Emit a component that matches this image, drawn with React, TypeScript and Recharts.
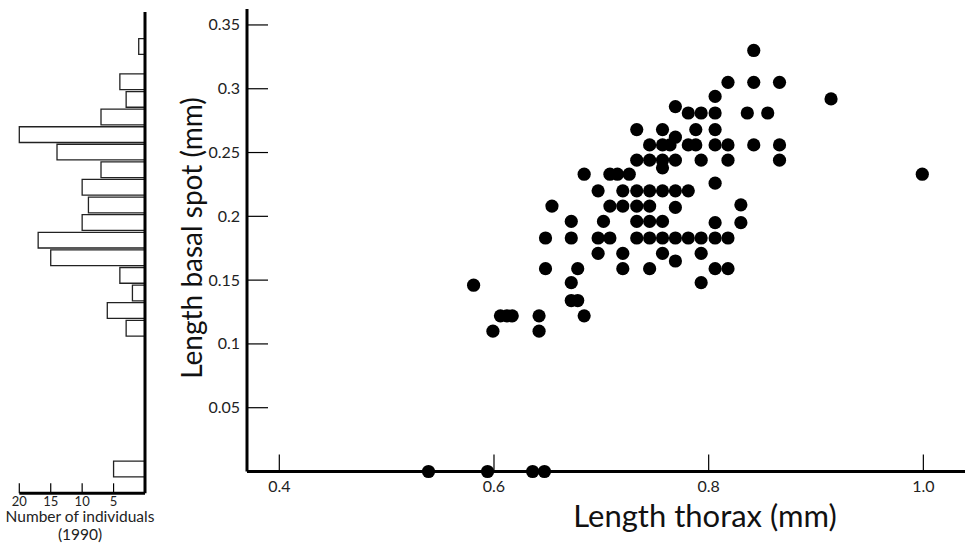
import { ScatterChart, Scatter, XAxis, YAxis, BarChart, Bar, Label } from "recharts";

const thoraxTicks = [0.4, 0.6, 0.8, 1.0];
const spotTicks = [0.05, 0.1, 0.15, 0.2, 0.25, 0.3, 0.35];
const countTicks = [5, 10, 15, 20];

// thorax length (x) and basal spot length (y), read row by row
const thorax = [
  0.539, 0.594, 0.636, 0.647,
  0.599, 0.642,
  0.606, 0.612, 0.617, 0.642, 0.684,
  0.672, 0.678,
  0.581,
  0.672, 0.793,
  0.648, 0.678, 0.72, 0.745, 0.806, 0.818,
  0.769,
  0.697, 0.72, 0.757, 0.793,
  0.648, 0.672, 0.697, 0.708, 0.733, 0.745, 0.757, 0.769, 0.781, 0.793, 0.806, 0.818,
  0.806, 0.83,
  0.672, 0.702, 0.733, 0.745, 0.757,
  0.769,
  0.654, 0.708, 0.72, 0.733, 0.745,
  0.83,
  0.697, 0.72, 0.733, 0.745, 0.757, 0.769, 0.781,
  0.806,
  0.684, 0.708, 0.715, 0.726, 0.999,
  0.757,
  0.733, 0.745, 0.757, 0.769, 0.793, 0.818, 0.866,
  0.745, 0.757, 0.764, 0.781, 0.788, 0.806, 0.818, 0.842, 0.866,
  0.769,
  0.733, 0.757, 0.788, 0.806,
  0.781, 0.793, 0.806, 0.836, 0.855,
  0.769,
  0.914,
  0.806,
  0.818, 0.842, 0.866,
  0.842,
];
const spot = [
  0, 0, 0, 0,
  0.11, 0.11,
  0.122, 0.122, 0.122, 0.122, 0.122,
  0.134, 0.134,
  0.146,
  0.148, 0.148,
  0.159, 0.159, 0.159, 0.159, 0.159, 0.159,
  0.165,
  0.171, 0.171, 0.171, 0.171,
  0.183, 0.183, 0.183, 0.183, 0.183, 0.183, 0.183, 0.183, 0.183, 0.183, 0.183, 0.183,
  0.195, 0.195,
  0.196, 0.196, 0.196, 0.196, 0.196,
  0.207,
  0.208, 0.208, 0.208, 0.208, 0.208,
  0.209,
  0.22, 0.22, 0.22, 0.22, 0.22, 0.22, 0.22,
  0.226,
  0.233, 0.233, 0.233, 0.233, 0.233,
  0.238,
  0.244, 0.244, 0.244, 0.244, 0.244, 0.244, 0.244,
  0.256, 0.256, 0.256, 0.256, 0.256, 0.256, 0.256, 0.256, 0.256,
  0.262,
  0.268, 0.268, 0.268, 0.268,
  0.281, 0.281, 0.281, 0.281, 0.281,
  0.286,
  0.292,
  0.294,
  0.305, 0.305, 0.305,
  0.33,
];

// marginal histogram of basal spot length (1990)
const binCentres = [
  0.3331, 0.3193, 0.3055, 0.2917, 0.2779, 0.2641, 0.2504, 0.2366, 0.2228,
  0.209, 0.1952, 0.1814, 0.1676, 0.1538, 0.14, 0.1262, 0.1124, 0.0986,
  0.0848, 0.071, 0.0572, 0.0434, 0.0296, 0.0159, 0.0021,
];
const counts1990 = [1, 0, 4, 3, 7, 20, 14, 7, 10, 9, 10, 17, 15, 4, 2, 6, 3, 0, 0, 0, 0, 0, 0, 0, 5];

const points = thorax.map((t, i) => ({ thorax: t, spot: spot[i] }));
const bins = binCentres.map((c, i) => ({ centre: c, count: counts1990[i] }));

const FONT = "Lato, 'Liberation Sans', sans-serif";

const Dot = (props: any) => <circle cx={props.cx} cy={props.cy} r={6.6} fill="#000" />;

const ThoraxTick = (props: any) => {
  const { x, y, payload } = props;
  return (
    <g>
      <line x1={x} x2={x} y1={y - 17} y2={y} stroke="#000" strokeWidth={1.2} />
      <text x={x} y={y + 20} textAnchor="middle" fontSize={16} fill="#222" fontFamily={FONT}>
        {payload.value === 1 ? "1.0" : String(payload.value)}
      </text>
    </g>
  );
};

const SpotTick = (props: any) => {
  const { x, y, payload } = props;
  return (
    <g>
      <line x1={x} x2={x + 21} y1={y} y2={y} stroke="#000" strokeWidth={1.2} />
      <text x={x - 7} y={y + 5.5} textAnchor="end" fontSize={16} fill="#222" fontFamily={FONT}>
        {String(payload.value)}
      </text>
    </g>
  );
};

const CountTick = (props: any) => {
  const { x, y, payload } = props;
  return (
    <g>
      <line x1={x} x2={x} y1={y - 10} y2={y} stroke="#000" strokeWidth={1.2} />
      <text x={x} y={y + 12.5} textAnchor="middle" fontSize={13} fill="#222" fontFamily={FONT}>
        {String(payload.value)}
      </text>
    </g>
  );
};

export default function App() {
  return (
    <div style={{ position: "absolute", left: 0, top: 0, width: 965, height: 547, background: "#fff" }}>
      <div style={{ position: "absolute", left: 0, top: 0 }}>
        <ScatterChart width={965} height={547} margin={{ top: 9, right: 0, bottom: 0, left: 0 }}>
          <XAxis
            type="number"
            dataKey="thorax"
            domain={[0.3699, 1.0388]}
            ticks={thoraxTicks}
            interval={0}
            height={75.5}
            tickSize={0}
            tickMargin={0}
            tickLine={false}
            tick={<ThoraxTick />}
            axisLine={{ stroke: "#000", strokeWidth: 3 }}
          >
            <Label
              content={() => (
                <text x={705} y={527} textAnchor="middle" fontSize={31} fill="#111" fontFamily={FONT}>
                  Length thorax (mm)
                </text>
              )}
            />
          </XAxis>
          <YAxis
            type="number"
            dataKey="spot"
            domain={[0, 0.3625]}
            ticks={spotTicks}
            interval={0}
            width={247}
            tickSize={0}
            tickMargin={0}
            tickLine={false}
            tick={<SpotTick />}
            axisLine={{ stroke: "#000", strokeWidth: 3 }}
          >
            <Label
              content={() => (
                <text
                  x={191}
                  y={238}
                  transform="rotate(-90 191 238)"
                  textAnchor="middle"
                  dominantBaseline="central"
                  fontSize={28}
                  fill="#111"
                  fontFamily={FONT}
                >
                  Length basal spot (mm)
                </text>
              )}
            />
          </YAxis>
          <Scatter data={points} fill="#000" shape={<Dot />} isAnimationActive={false} />
        </ScatterChart>
      </div>
      <div style={{ position: "absolute", left: 0, top: 0 }}>
        <BarChart
          width={160}
          height={547}
          layout="vertical"
          data={bins}
          margin={{ top: 12, right: 0, bottom: 0, left: 19.3 }}
        >
          <XAxis
            type="number"
            dataKey="count"
            domain={[0, 20]}
            reversed
            ticks={countTicks}
            interval={0}
            height={53.7}
            tickSize={0}
            tickMargin={0}
            tickLine={false}
            tick={<CountTick />}
            axisLine={{ stroke: "#000", strokeWidth: 3 }}
          >
            <Label
              content={() => (
                <g>
                  <text x={80} y={522} textAnchor="middle" fontSize={15.5} fill="#222" fontFamily={FONT}>
                    Number of individuals
                  </text>
                  <text x={80} y={540} textAnchor="middle" fontSize={15.5} fill="#222" fontFamily={FONT}>
                    (1990)
                  </text>
                </g>
              )}
            />
          </XAxis>
          <YAxis
            type="number"
            dataKey="centre"
            domain={[-0.0171, 0.3601]}
            reversed
            orientation="right"
            width={15}
            tick={false}
            tickLine={false}
            axisLine={{ stroke: "#000", strokeWidth: 3 }}
          />
          <Bar dataKey="count" barSize={17.6} fill="#fff" stroke="#222" strokeWidth={1.3} isAnimationActive={false} />
        </BarChart>
      </div>
    </div>
  );
}
